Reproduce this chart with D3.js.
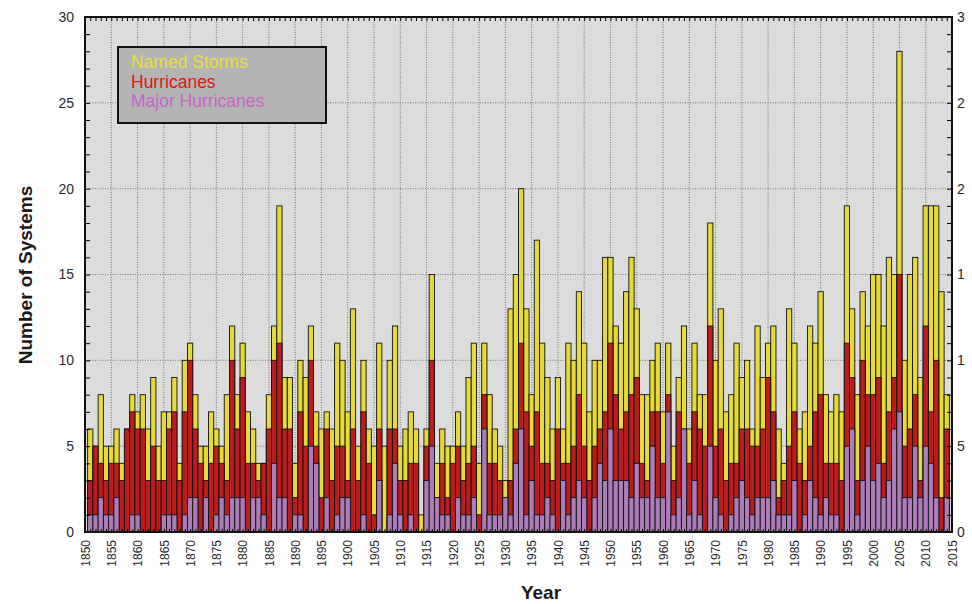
<!DOCTYPE html>
<html>
<head>
<meta charset="utf-8">
<script src="https://cdn.jsdelivr.net/npm/d3@7"></script>
<style>
  html, body { margin: 0; padding: 0; background: #fff; }
  svg { display: block; font-family: "Liberation Sans", Arial, sans-serif; }
</style>
</head>
<body>
<svg id="chart" width="972" height="604"></svg>
<script>
const years = d3.range(1851, 2015);
const namedStorms = [
  6,5,8,5,5,6,4,6,8,7, 8,6,9,5,7,7,9,4,10,11,
  8,5,5,7,6,5,8,12,8,11, 7,6,4,4,8,12,19,9,9,4,
  10,9,12,7,6,7,6,11,10,7, 13,5,10,6,5,11,5,10,12,5,
  6,7,6,1,6,15,4,6,5,5, 7,5,9,11,4,11,8,6,5,3,
  13,15,20,13,8,17,11,9,6,9, 6,11,10,14,11,7,10,10,16,16,
  12,11,14,16,13,8,8,10,11,7, 11,5,9,12,6,11,8,8,18,10,
  13,7,8,11,9,10,6,12,9,11, 12,6,4,13,11,6,7,12,11,14,
  8,7,8,7,19,13,8,14,12,15, 15,12,16,15,28,10,15,16,9,19,
  19,19,14,8
];
const hurricanes = [
  3,5,4,3,4,4,3,6,7,6, 6,3,5,3,3,6,7,3,7,10,
  6,4,3,4,5,4,3,10,6,9, 4,4,3,4,6,10,11,6,6,2,
  7,5,10,5,2,6,3,5,5,3, 6,3,7,4,1,6,0,6,6,3,
  3,4,4,0,5,10,2,4,2,4, 5,3,4,5,1,8,4,4,3,2,
  3,6,11,7,5,7,4,4,3,6, 4,4,5,8,5,3,5,6,7,11,
  8,6,7,8,9,4,3,7,7,4, 8,3,7,6,4,7,6,5,12,5,
  6,3,4,4,6,6,5,5,6,9, 7,2,3,5,7,4,3,5,7,8,
  4,4,4,3,11,9,3,10,8,8, 9,4,7,9,15,5,6,8,3,12,
  7,10,2,6
];
const majorHurricanes = [
  1,1,2,1,1,2,0,0,1,1, 0,0,0,0,1,1,1,0,1,2,
  2,0,2,0,1,2,1,2,2,2, 0,2,2,1,0,4,2,2,0,1,
  1,0,5,4,0,2,0,1,2,2, 0,0,1,0,0,3,0,1,4,1,
  0,1,0,0,3,5,2,1,1,0, 2,1,1,2,0,6,1,1,1,2,
  1,4,6,1,3,1,1,2,1,0, 3,1,2,3,2,0,2,4,3,6,
  3,3,3,2,4,2,2,5,2,2, 7,1,2,6,1,3,1,0,5,2,
  1,0,1,2,3,2,1,2,2,2, 3,1,1,1,3,0,1,3,2,1,
  2,1,1,0,5,6,1,3,5,3, 4,2,3,6,7,2,2,5,2,5,
  4,2,0,2
];
const yTicks = [0, 5, 10, 15, 20, 25, 30];
const xTicks = d3.range(1850, 2016, 5);
const legendItems = ["Named Storms", "Hurricanes", "Major Hurricanes"];

const svg = d3.select("#chart");
const L = 85, R = 952, T = 17, B = 532;
const x = d3.scaleLinear().domain([1850, 2015]).range([L, R]);
const y = d3.scaleLinear().domain([0, 30]).range([B, T]);

// plot background
svg.append("rect").attr("x", L).attr("y", T).attr("width", R - L).attr("height", B - T)
  .attr("fill", "#dcdcdc");

// gridlines
const grid = svg.append("g");
grid.selectAll("line.v").data(xTicks.slice(1, -1)).join("line")
  .attr("x1", d => x(d)).attr("x2", d => x(d)).attr("y1", T).attr("y2", B)
  .attr("stroke", "#777").attr("stroke-width", 1).attr("stroke-dasharray", "1,1.5");
grid.selectAll("line.h").data(yTicks.slice(1, -1)).join("line")
  .attr("x1", L).attr("x2", R).attr("y1", d => y(d)).attr("y2", d => y(d))
  .attr("stroke", "#777").attr("stroke-width", 1).attr("stroke-dasharray", "1,1.5");

// bars
const data = years.map((yr, i) => ({ yr, ns: namedStorms[i], h: hurricanes[i], mh: majorHurricanes[i] }));
const bw = x(1851) - x(1850);
const series = [
  { key: "ns", fill: "#e6da3a" },
  { key: "h", fill: "#bd1c1c" },
  { key: "mh", fill: "#ab7cb8" }
];
series.forEach(s => {
  svg.append("g").selectAll("rect").data(data.filter(d => d[s.key] > 0)).join("rect")
    .attr("x", d => x(d.yr - 0.5))
    .attr("width", bw)
    .attr("y", d => y(d[s.key]))
    .attr("height", d => y(0) - y(d[s.key]))
    .attr("fill", s.fill)
    .attr("stroke", "#111")
    .attr("stroke-width", 0.9);
});

// minor ticks (inward) on all four sides
const yMinor = d3.range(0, 31);
const xMinor = d3.range(1850, 2016);
svg.append("g").attr("transform", `translate(${L},0)`)
  .call(d3.axisRight(y).tickValues(yMinor).tickSize(5).tickFormat(""))
  .call(g => g.select(".domain").remove());
svg.append("g").attr("transform", `translate(${R},0)`)
  .call(d3.axisLeft(y).tickValues(yMinor).tickSize(5).tickFormat(""))
  .call(g => g.select(".domain").remove());
svg.append("g").attr("transform", `translate(0,${T})`)
  .call(d3.axisBottom(x).tickValues(xMinor).tickSize(4).tickFormat(""))
  .call(g => g.select(".domain").remove());
svg.append("g").attr("transform", `translate(0,${B})`)
  .call(d3.axisTop(x).tickValues(xMinor).tickSize(3).tickFormat(""))
  .call(g => g.select(".domain").remove());

// frame
svg.append("rect").attr("x", L).attr("y", T).attr("width", R - L).attr("height", B - T)
  .attr("fill", "none").attr("stroke", "#111").attr("stroke-width", 2);

// left axis labels
svg.append("g").attr("transform", `translate(${L},0)`)
  .call(d3.axisLeft(y).tickValues(yTicks).tickSize(0).tickPadding(11).tickFormat(d3.format("d")))
  .call(g => g.select(".domain").remove())
  .call(g => g.selectAll("text").attr("font-size", 14).attr("fill", "#2a2a2a")
    .attr("font-family", "'Liberation Sans', Arial, sans-serif"));

// right axis labels (clipped at the image edge like the reference)
svg.append("clipPath").attr("id", "rclip").append("rect")
  .attr("x", 940).attr("y", 0).attr("width", 25).attr("height", 604);
svg.append("g").attr("clip-path", "url(#rclip)")
  .append("g").attr("transform", `translate(${R},0)`)
  .call(d3.axisRight(y).tickValues(yTicks).tickSize(0).tickPadding(5).tickFormat(d3.format("d")))
  .call(g => g.select(".domain").remove())
  .call(g => g.selectAll("text").attr("font-size", 14).attr("fill", "#2a2a2a")
    .attr("font-family", "'Liberation Sans', Arial, sans-serif"));

// bottom axis labels, rotated
const xa = svg.append("g").attr("transform", `translate(0,${B})`)
  .call(d3.axisBottom(x).tickValues(xTicks).tickSize(0).tickFormat(d3.format("d")))
  .call(g => g.select(".domain").remove());
xa.selectAll("text")
  .attr("font-size", 12).attr("fill", "#2a2a2a")
  .attr("font-family", "'Liberation Sans', Arial, sans-serif")
  .attr("text-anchor", "end")
  .attr("dy", "0.35em")
  .attr("transform", "translate(0,8) rotate(-90)")
  .attr("x", 0).attr("y", 0);

// axis titles
svg.append("text").attr("x", 541).attr("y", 599).attr("text-anchor", "middle")
  .attr("font-size", 19).attr("font-weight", "bold").attr("fill", "#1a1a1a")
  .text("Year");
svg.append("text").attr("transform", "translate(32,275) rotate(-90)")
  .attr("text-anchor", "middle")
  .attr("font-size", 19).attr("font-weight", "bold").attr("fill", "#1a1a1a")
  .text("Number of Systems");

// legend
svg.append("rect").attr("x", 118).attr("y", 47).attr("width", 208).attr("height", 76)
  .attr("fill", "#b4b4b4").attr("stroke", "#111").attr("stroke-width", 2);
const legendColors = ["#ecde3a", "#e01414", "#c865c8"];
svg.append("g").selectAll("text").data(legendItems).join("text")
  .attr("x", 131).attr("y", (d, i) => 68 + i * 19.5)
  .attr("font-size", 17.5).attr("fill", (d, i) => legendColors[i])
  .text(d => d);
</script>
</body>
</html>
